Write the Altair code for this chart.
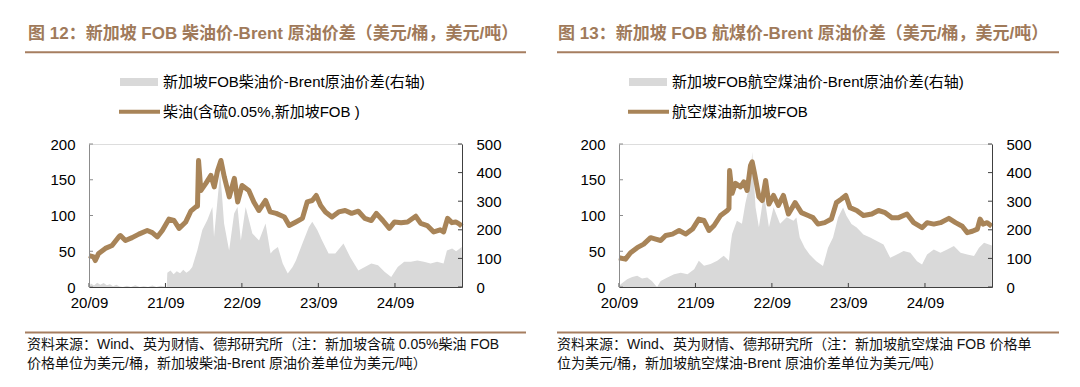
import altair as alt
import pandas as pd

# ---------------- data ----------------
diesel_dates = ["2020-09-01","2020-09-23","2020-10-01","2020-10-17","2020-11-18","2020-12-20","2021-01-21","2021-01-29","2021-02-22","2021-03-26","2021-04-27","2021-06-06","2021-06-30","2021-07-24","2021-08-17","2021-09-18","2021-10-12","2021-11-05","2021-12-07","2021-12-31","2022-01-24","2022-02-01","2022-02-06","2022-02-17","2022-03-13","2022-04-06","2022-04-22","2022-05-08","2022-05-24","2022-06-09","2022-07-03","2022-07-27","2022-08-12","2022-09-02","2022-10-04","2022-10-28","2022-11-21","2022-12-23","2023-01-14","2023-02-12","2023-03-07","2023-03-23","2023-04-15","2023-05-17","2023-06-17","2023-07-10","2023-08-03","2023-08-22","2023-09-12","2023-10-05","2023-11-05","2023-12-07","2024-01-07","2024-02-07","2024-03-10","2024-04-10","2024-05-11","2024-06-04","2024-07-05","2024-08-05","2024-08-30","2024-09-30","2024-10-31","2024-12-09","2025-01-02","2025-02-02","2025-03-05","2025-04-05","2025-04-21","2025-05-10","2025-05-31","2025-06-18","2025-07-06","2025-07-17"]
diesel_price = [44,42,37,47,54,58,70,72,65,69,74,79,76,70,79,95,93,82,91,106,112,113,177,135,145,156,140,163,177,154,126,152,119,142,135,119,107,121,105,103,100,98,86,91,96,119,121,128,114,105,98,105,107,103,106,96,93,103,93,82,91,90,91,99,89,86,77,80,77,96,90,91,88,85]

diesel_spread_dates = ["2020-09-01","2020-09-10","2020-09-25","2020-10-10","2020-10-25","2020-11-10","2020-11-25","2020-12-10","2020-12-25","2021-01-10","2021-01-25","2021-02-10","2021-03-01","2021-03-20","2021-04-10","2021-05-01","2021-05-20","2021-06-10","2021-07-01","2021-07-20","2021-08-10","2021-09-07","2021-09-10","2021-09-25","2021-10-10","2021-10-25","2021-11-10","2021-11-25","2021-12-10","2021-12-25","2022-01-07","2022-01-31","2022-02-24","2022-03-20","2022-04-13","2022-04-21","2022-05-07","2022-05-20","2022-05-28","2022-06-08","2022-07-02","2022-07-26","2022-08-11","2022-08-27","2022-09-19","2022-10-21","2022-11-22","2022-12-23","2023-01-16","2023-01-28","2023-02-20","2023-03-15","2023-04-08","2023-05-01","2023-05-17","2023-06-17","2023-07-18","2023-08-03","2023-08-27","2023-09-19","2023-10-20","2023-11-21","2023-12-30","2024-01-31","2024-03-10","2024-04-10","2024-05-11","2024-06-12","2024-07-13","2024-08-14","2024-09-14","2024-10-15","2024-11-16","2024-12-17","2025-01-17","2025-02-18","2025-03-21","2025-04-21","2025-05-07","2025-06-01","2025-06-20","2025-07-17"]
diesel_spread = [0,12,5,15,8,14,6,10,3,8,2,0,4,0,6,0,3,0,5,0,4,0,50,58,45,55,48,60,50,58,70,128,199,234,280,175,300,400,330,222,128,257,280,163,280,187,163,222,117,128,140,82,47,70,93,152,210,228,199,163,117,117,152,105,58,70,82,76,53,35,70,88,88,93,88,82,88,82,128,135,125,140]

jet_dates = ["2020-09-01","2020-10-02","2020-10-26","2020-11-27","2020-12-28","2021-01-30","2021-02-23","2021-03-19","2021-04-12","2021-05-14","2021-06-15","2021-07-17","2021-08-18","2021-09-17","2021-10-12","2021-11-05","2021-11-29","2021-12-30","2022-01-31","2022-02-08","2022-02-11","2022-02-23","2022-03-11","2022-04-04","2022-04-20","2022-05-06","2022-05-22","2022-05-30","2022-06-10","2022-07-01","2022-07-17","2022-08-02","2022-08-18","2022-09-09","2022-10-02","2022-10-26","2022-11-19","2022-12-21","2023-01-20","2023-02-21","2023-03-16","2023-04-09","2023-05-11","2023-06-12","2023-07-06","2023-07-30","2023-08-20","2023-09-09","2023-10-11","2023-11-12","2023-12-22","2024-01-23","2024-02-24","2024-03-27","2024-04-28","2024-06-07","2024-07-09","2024-08-18","2024-09-11","2024-10-13","2024-11-14","2024-12-24","2025-01-25","2025-02-26","2025-03-22","2025-04-15","2025-05-09","2025-05-22","2025-06-05","2025-06-25","2025-07-17"]
jet_price = [41,39,48,55,60,69,67,65,72,74,79,74,81,95,93,79,86,100,107,110,163,131,145,140,147,135,170,175,159,126,121,149,116,128,114,128,102,118,104,100,97,88,90,95,118,123,128,111,107,100,102,107,104,97,97,102,90,83,90,88,90,96,90,85,76,78,81,95,88,90,85]

jet_spread_dates = ["2020-09-01","2020-09-09","2020-10-10","2020-11-03","2020-11-27","2020-12-20","2021-01-14","2021-02-06","2021-02-23","2021-03-02","2021-03-19","2021-04-20","2021-05-22","2021-06-23","2021-07-25","2021-08-26","2021-09-17","2021-10-12","2021-11-12","2021-12-14","2022-01-14","2022-02-08","2022-02-16","2022-02-23","2022-03-18","2022-04-11","2022-04-27","2022-05-22","2022-05-30","2022-06-15","2022-07-01","2022-07-25","2022-08-18","2022-09-09","2022-10-10","2022-11-11","2022-12-13","2022-12-27","2023-01-12","2023-02-05","2023-02-28","2023-04-01","2023-05-03","2023-05-27","2023-06-20","2023-07-14","2023-08-07","2023-08-23","2023-09-16","2023-10-11","2023-11-12","2023-12-14","2024-01-15","2024-02-16","2024-03-19","2024-04-20","2024-05-22","2024-06-23","2024-07-25","2024-08-18","2024-09-11","2024-10-13","2024-11-14","2024-12-16","2025-01-17","2025-02-18","2025-03-22","2025-04-23","2025-05-17","2025-06-10","2025-07-17"]
jet_spread = [0,10,27,35,39,30,33,20,5,0,21,33,45,50,45,62,92,74,80,92,109,92,150,185,232,221,291,373,473,279,209,326,209,279,221,244,232,243,173,137,114,90,73,137,173,243,278,249,220,208,184,173,161,149,102,114,126,120,90,79,114,131,120,131,143,120,114,108,137,155,145]

left_ticks = [0, 50, 100, 150, 200]
right_ticks = [0, 100, 200, 300, 400, 500]
x_tick_dates = ["2020-09-01", "2021-09-01", "2022-09-01", "2023-09-01", "2024-09-01"]

panels = [
    {
        "title": "图 12：新加坡 FOB 柴油价-Brent 原油价差（美元/桶，美元/吨）",
        "leg_area": "新加坡FOB柴油价-Brent原油价差(右轴)",
        "leg_line": "柴油(含硫0.05%,新加坡FOB )",
        "src1": "资料来源：Wind、英为财情、德邦研究所（注：新加坡含硫 0.05%柴油 FOB",
        "src2": "价格单位为美元/桶，新加坡柴油-Brent 原油价差单位为美元/吨）",
        "line_dates": diesel_dates, "line_vals": diesel_price,
        "area_dates": diesel_spread_dates, "area_vals": diesel_spread,
        "leg_x": 31, "rule_l": -64, "rule_r": 437,
    },
    {
        "title": "图 13：新加坡 FOB 航煤价-Brent 原油价差（美元/桶，美元/吨）",
        "leg_area": "新加坡FOB航空煤油价-Brent原油价差(右轴)",
        "leg_line": "航空煤油新加坡FOB",
        "src1": "资料来源：Wind、英为财情、德邦研究所（注：新加坡航空煤油 FOB 价格单",
        "src2": "位为美元/桶，新加坡航空煤油-Brent 原油价差单位为美元/吨）",
        "line_dates": jet_dates, "line_vals": jet_price,
        "area_dates": jet_spread_dates, "area_vals": jet_spread,
        "leg_x": 10, "rule_l": -62, "rule_r": 440,
    },
]

# ---------------- style ----------------
W, H = 373, 143
LINE_C = "#a88458"
AREA_C = "#d9d9d9"
TITLE_C = "#a07a5a"
AXIS_C = "#404040"
FONT = "'Liberation Sans', 'Noto Sans CJK SC', sans-serif"
XDOM = ["2020-09-01", "2025-07-18"]

def make_panel(p):
    one = pd.DataFrame({"k": [0]})
    line_df = pd.DataFrame({"date": p["line_dates"], "v": p["line_vals"]})
    area_df = pd.DataFrame({"date": p["area_dates"], "v": p["area_vals"]})

    xenc = alt.X("date:T", scale=alt.Scale(domain=XDOM),
                 axis=alt.Axis(values=x_tick_dates, format="%y/%m", tickSize=0,
                               labelPadding=8, labelFontSize=15, labelColor="#000",
                               labelFont=FONT, domainColor=AXIS_C, grid=False,
                               title=None, zindex=1, labelFlush=False))

    area = alt.Chart(area_df).mark_area(color=AREA_C, opacity=1).encode(
        x=xenc,
        y=alt.Y("v:Q", scale=alt.Scale(domain=[0, 500], nice=False),
                axis=alt.Axis(orient="right", values=right_ticks, tickSize=0,
                              labelPadding=14, labelFontSize=15, labelColor="#000",
                              labelFont=FONT, domainColor=AXIS_C, grid=False,
                              title=None, zindex=1)),
    )
    line = alt.Chart(line_df).mark_line(color=LINE_C, strokeWidth=5,
                                        strokeJoin="round").encode(
        x=xenc,
        y=alt.Y("v:Q", scale=alt.Scale(domain=[0, 200], nice=False),
                axis=alt.Axis(orient="left", values=left_ticks, tickSize=0,
                              labelPadding=14, labelFontSize=15, labelColor="#000",
                              labelFont=FONT, domainColor="#8c8c8c", grid=False,
                              title=None, zindex=1)),
    )
    lt = alt.Chart(pd.DataFrame({"v": left_ticks})).mark_rule(color="#8c8c8c").encode(
        y=alt.Y("v:Q", scale=alt.Scale(domain=[0, 200], nice=False), axis=None),
        x=alt.value(0), x2=alt.value(4))
    rt = alt.Chart(pd.DataFrame({"v": right_ticks})).mark_rule(color=AXIS_C).encode(
        y=alt.Y("v:Q", scale=alt.Scale(domain=[0, 500], nice=False), axis=None),
        x=alt.value(W - 4), x2=alt.value(W))
    xt = alt.Chart(pd.DataFrame({"date": x_tick_dates})).mark_rule(color=AXIS_C).encode(
        x=xenc, y=alt.value(H), y2=alt.value(H - 4))

    def txt(s, x, y, size, color="#000", weight="normal"):
        return alt.Chart(pd.DataFrame({"t": [s]})).mark_text(
            align="left", baseline="middle", fontSize=size, font=FONT,
            color=color, fontWeight=weight).encode(
            x=alt.value(x), y=alt.value(y), text="t:N")

    def hrule(x1, x2, y, color, w):
        return alt.Chart(one).mark_rule(color=color, strokeWidth=w).encode(
            x=alt.value(x1), x2=alt.value(x2), y=alt.value(y))

    lx = p["leg_x"]
    title = txt(p["title"], -61, -109.6, 17, TITLE_C, "bold")
    underline = hrule(p["rule_l"], p["rule_r"], -91.7, "#a67e60", 2)
    leg_rect = alt.Chart(one).mark_rect(color=AREA_C).encode(
        x=alt.value(lx), x2=alt.value(lx + 38), y=alt.value(-66), y2=alt.value(-58))
    leg_line = hrule(lx - 1, lx + 40, -32.3, LINE_C, 4)
    leg_t1 = txt(p["leg_area"], lx + 43, -61.6, 15)
    leg_t2 = txt(p["leg_line"], lx + 43, -32.3, 15)
    bottom = hrule(p["rule_l"], p["rule_r"], 188.4, "#a67e60", 2)
    s1 = txt(p["src1"], -62, 200.6, 14, "#111")
    s2 = txt(p["src2"], -62, 219.6, 14, "#111")

    return alt.layer(area, line, lt, rt, xt, title, underline, leg_rect, leg_line,
                     leg_t1, leg_t2, bottom, s1, s2).resolve_scale(
        y="independent").properties(width=W, height=H)

chart = alt.hconcat(*[make_panel(p) for p in panels], spacing=27).properties(
    padding={"left": 15, "top": 16, "right": 5, "bottom": 5}
).configure_view(stroke=None).configure(background="white")

chart.save("out.html", embed_options={"renderer": "svg", "actions": False})
